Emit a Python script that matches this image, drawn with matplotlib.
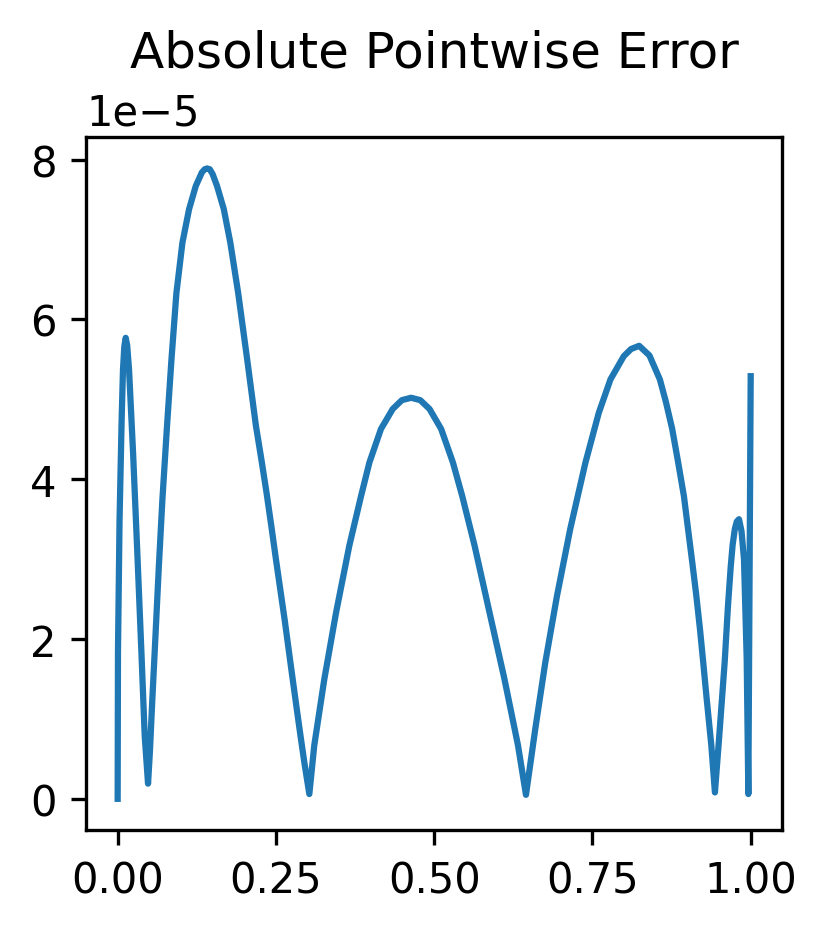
import numpy as np
import matplotlib
matplotlib.use("Agg")
import matplotlib.pyplot as plt

# points (y in units of 1e-5)
x_pts = [0.0000, 0.0005, 0.0030, 0.0063, 0.0084, 0.0105, 0.0127, 0.0150, 0.0180,
         0.0243, 0.0310, 0.0375, 0.0427, 0.0480, 0.0510, 0.0545, 0.0585, 0.0650,
         0.0707, 0.0780, 0.0850, 0.0928, 0.1023, 0.1128, 0.1234, 0.1330, 0.1375,
         0.1413, 0.1455, 0.1500, 0.1570, 0.1677, 0.1780, 0.1904, 0.2046, 0.2184,
         0.2270, 0.2352, 0.2430, 0.2500, 0.2640, 0.2730, 0.2830, 0.2890, 0.2950,
         0.3028, 0.3106, 0.3265, 0.3450, 0.3660, 0.3845, 0.3977, 0.4160, 0.4346,
         0.4490, 0.4636, 0.4780, 0.4926, 0.5110, 0.5296, 0.5443, 0.5638, 0.5875,
         0.6110, 0.6324, 0.6450, 0.6598, 0.6756, 0.6940, 0.7150, 0.7390, 0.7600,
         0.7785, 0.7995, 0.8110, 0.8238, 0.8400, 0.8565, 0.8660, 0.8760, 0.8850,
         0.8945, 0.9010, 0.9077, 0.9140, 0.9198, 0.9250, 0.9300, 0.9378, 0.9435,
         0.9500, 0.9589, 0.9640, 0.9684, 0.9715, 0.9750, 0.9780, 0.9815, 0.9855,
         0.9894, 0.9937, 0.9963, 1.0000]
err_pts = [0.00, 1.84, 3.50, 4.75, 5.37, 5.66, 5.77, 5.68, 5.37,
           4.34, 3.09, 1.84, 0.79, 0.19, 0.60, 1.20, 1.84, 2.90,
           3.75, 4.67, 5.50, 6.33, 6.96, 7.38, 7.67, 7.84, 7.88,
           7.89, 7.88, 7.82, 7.67, 7.38, 6.96, 6.33, 5.50, 4.67,
           4.25, 3.83, 3.40, 3.00, 2.23, 1.70, 1.12, 0.78, 0.45,
           0.06, 0.67, 1.50, 2.33, 3.17, 3.79, 4.21, 4.63, 4.88,
           4.99, 5.02, 4.99, 4.88, 4.63, 4.21, 3.79, 3.17, 2.33,
           1.50, 0.67, 0.05, 0.88, 1.71, 2.54, 3.38, 4.21, 4.83,
           5.25, 5.54, 5.63, 5.67, 5.55, 5.25, 4.97, 4.63, 4.23,
           3.79, 3.38, 2.96, 2.55, 2.13, 1.71, 1.29, 0.67, 0.08,
           0.75, 1.71, 2.40, 2.90, 3.18, 3.38, 3.47, 3.50, 3.35,
           3.00, 1.75, 0.06, 5.29]

x = np.array(x_pts)
err = np.array(err_pts) * 1e-5

fig = plt.figure(figsize=(827 / 300, 932 / 300), dpi=300)
plt.subplots_adjust(left=0.104, right=0.946, top=0.852, bottom=0.108)
plt.plot(x, err)
plt.title("Absolute Pointwise Error")

plt.savefig("out.png", dpi=300)
